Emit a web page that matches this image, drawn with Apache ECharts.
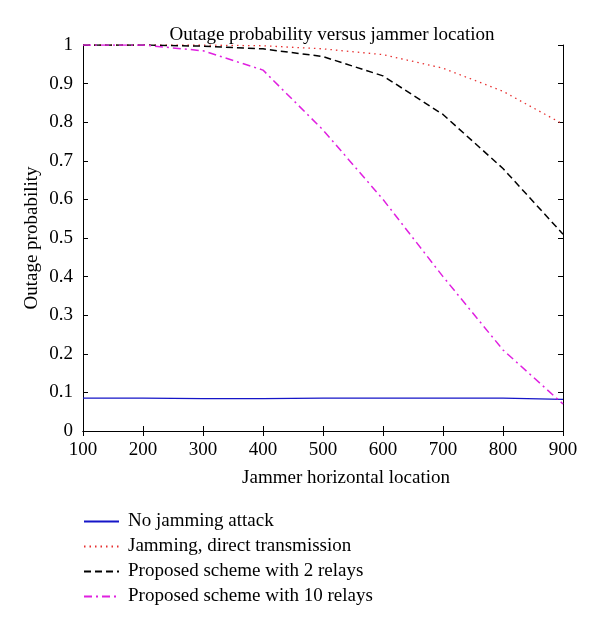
<!DOCTYPE html>
<html><head><meta charset="utf-8">
<script src="https://cdn.jsdelivr.net/npm/echarts@6/dist/echarts.min.js"></script>
<style>html,body{margin:0;padding:0;background:#fff}#c{width:600px;height:624px}</style>
</head><body><div id="c"></div>
<script>
const xValues = [100, 200, 300, 400, 500, 600, 700, 800, 900];
const noJamming = [0.085, 0.085, 0.084, 0.084, 0.085, 0.085, 0.085, 0.085, 0.082];
const directTx = [1, 1, 1, 0.998, 0.99, 0.975, 0.94, 0.88, 0.795];
const twoRelays = [1, 1, 0.997, 0.99, 0.97, 0.92, 0.82, 0.68, 0.51];
const tenRelays = [1, 1, 0.985, 0.935, 0.78, 0.6, 0.4, 0.21, 0.07];
const seriesNames = ['No jamming attack', 'Jamming, direct transmission', 'Proposed scheme with 2 relays', 'Proposed scheme with 10 relays'];

const font = 'Liberation Serif';
const pair = a => xValues.map((x, i) => [x, a[i]]);
const chart = echarts.init(document.getElementById('c'));
const axisLine = {show: true, lineStyle: {color: '#000', width: 1}};
chart.setOption({
  animation: false,
  title: {text: 'Outage probability versus jammer location', left: 327, textAlign: 'center', top: 21,
    textStyle: {fontFamily: font, fontSize: 19, fontWeight: 'normal', color: '#000'}},
  grid: {left: 83, right: 37, top: 45, bottom: 193},
  legend: {orient: 'vertical', left: 78, top: 507, itemWidth: 35, itemHeight: 10, itemGap: 6,
    textStyle: {fontFamily: font, fontSize: 19, color: '#000', padding: [0, 0, 0, 4]},
    itemStyle: {opacity: 0},
    data: seriesNames},
  xAxis: [{type: 'value', min: 100, max: 900, interval: 100, position: 'bottom',
    name: 'Jammer horizontal location', nameLocation: 'middle', nameGap: 38,
    nameTextStyle: {fontFamily: font, fontSize: 19, color: '#000', padding: [0, 0, 0, 46]},
    axisLine, axisTick: {inside: true, length: 5, lineStyle: {color: '#000'}},
    axisLabel: {fontFamily: font, fontSize: 19, color: '#000', margin: 10}, splitLine: {show: false}},
    {type: 'value', min: 100, max: 900, interval: 100, position: 'top',
    axisLine, axisTick: {inside: true, length: 5, lineStyle: {color: '#000'}},
    axisLabel: {show: false}, splitLine: {show: false}}],
  yAxis: [{type: 'value', min: 0, max: 1, interval: 0.1, position: 'left',
    name: 'Outage probability', nameLocation: 'middle', nameGap: 41, nameMoveOverlap: false,
    nameTextStyle: {fontFamily: font, fontSize: 19, color: '#000'},
    axisLine, axisTick: {inside: true, length: 5, lineStyle: {color: '#000'}},
    axisLabel: {fontFamily: font, fontSize: 19, color: '#000', margin: 10}, splitLine: {show: false}},
    {type: 'value', min: 0, max: 1, interval: 0.1, position: 'right',
    axisLine, axisTick: {inside: true, length: 5, lineStyle: {color: '#000'}},
    axisLabel: {show: false}, splitLine: {show: false}}],
  series: [
    {name: seriesNames[0], type: 'line', data: pair(noJamming), showSymbol: false, symbol: 'none',
      lineStyle: {color: '#1515c8', width: 1.3, type: 'solid'}, itemStyle: {color: '#1515c8'}},
    {name: seriesNames[1], type: 'line', data: pair(directTx), showSymbol: false, symbol: 'none',
      lineStyle: {color: '#e83030', width: 1.3, type: [1.5, 4]}, itemStyle: {color: '#e83030'}},
    {name: seriesNames[2], type: 'line', data: pair(twoRelays), showSymbol: false, symbol: 'none',
      lineStyle: {color: '#000', width: 1.5, type: [7, 4]}, itemStyle: {color: '#000'}},
    {name: seriesNames[3], type: 'line', data: pair(tenRelays), showSymbol: false, symbol: 'none',
      lineStyle: {color: '#e020e0', width: 1.5, type: [8, 4, 2, 4]}, itemStyle: {color: '#e020e0'}}
  ]
});
</script></body></html>
